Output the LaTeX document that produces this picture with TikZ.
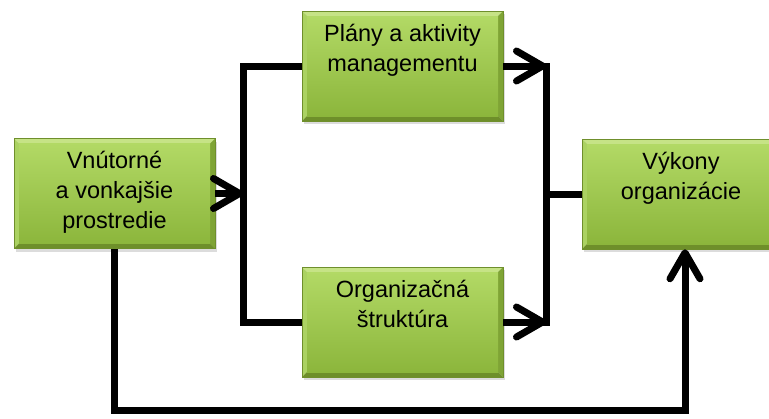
\documentclass[tikz,border=0pt]{standalone}
\usepackage{fontspec}
\setmainfont{Liberation Sans}
\usetikzlibrary{arrows.meta,shadows,calc}

\definecolor{gtop}{HTML}{B2D965}
\definecolor{gbot}{HTML}{8CB63C}
\definecolor{glight}{HTML}{C6E386}
\definecolor{gleft}{HTML}{ABD262}
\definecolor{gdark}{HTML}{6E8F2A}
\definecolor{gright}{HTML}{7FA435}
\definecolor{gline}{HTML}{6F8F2C}

\tikzset{
  greenbox/.style={
    rectangle, minimum width=201pt, minimum height=110pt, inner sep=0pt,
    draw=gline, line width=0.5pt,
    drop shadow={opacity=0.28, shadow xshift=2pt, shadow yshift=-3pt},
    path picture={
      \coordinate (pnw) at (path picture bounding box.north west);
      \coordinate (pne) at (path picture bounding box.north east);
      \coordinate (psw) at (path picture bounding box.south west);
      \coordinate (pse) at (path picture bounding box.south east);
      \coordinate (qnw) at ([shift={(5pt,-5pt)}]pnw);
      \coordinate (qne) at ([shift={(-5pt,-5pt)}]pne);
      \coordinate (qsw) at ([shift={(5pt,5pt)}]psw);
      \coordinate (qse) at ([shift={(-5pt,5pt)}]pse);
      \fill[glight] (pnw) -- (pne) -- (qne) -- (qnw) -- cycle;
      \fill[gleft] (pnw) -- (qnw) -- (qsw) -- (psw) -- cycle;
      \fill[gright] (pne) -- (qne) -- (qse) -- (pse) -- cycle;
      \fill[gdark] (psw) -- (pse) -- (qse) -- (qsw) -- cycle;
      \shade[top color=gtop, bottom color=gbot] (qnw) rectangle (qse);
    }
  },
  boxtext/.style={anchor=north, inner sep=0pt, align=center,
    font=\fontsize{23.5pt}{30pt}\selectfont},
  conn/.style={line width=7pt, line join=miter},
  chevron/.style={-{Straight Barb[length=26pt, width=30pt, line cap=round, line join=round]}}
}

\begin{document}
\begin{tikzpicture}[x=1pt, y=-1pt]
  \useasboundingbox (0,0) rectangle (769,418);
  \clip (0,0) rectangle (769,418);

  % blocks
  \node[greenbox] (env)  at (114.5,193.5) {};
  \node[greenbox] (plan) at (402.5,66)    {};
  \node[greenbox] (org)  at (402.5,322)   {};
  \node[greenbox, minimum width=206pt] (perf) at (685,194) {};

  % block captions
  \node[boxtext] (envt)  at ([yshift=-13pt]env.north)  {Vnútorné\\a vonkajšie\\prostredie};
  \node[boxtext] (plant) at ([yshift=-13pt]plan.north) {Plány a aktivity\\managementu};
  \node[boxtext] (orgt)  at ([yshift=-13pt]org.north)  {Organizačná\\štruktúra};
  \node[boxtext] (perft) at ([shift={(-4pt,-13pt)}]perf.north) {Výkony\\organizácie};

  % junction points
  \coordinate (ja) at (243,66);
  \coordinate (jb) at (243,322);
  \coordinate (jin) at (243,193.5);
  \coordinate (jc) at (546,66);
  \coordinate (jd) at (546,322);
  \coordinate (jout) at (546,194);
  \coordinate (jlow) at (0,410);

  % split from the environment block
  \draw[conn] (plan.west) -- (ja) -- (jb) -- (org.west);
  \draw[conn, chevron] (env.east) -- (jin);

  % merge into the performance block
  \draw[conn, line cap=rect] (jc) -- (jd);
  \draw[conn, chevron] (plan.east) -- (jc);
  \draw[conn, chevron] (org.east) -- (jd);
  \draw[conn] (jout) -- (perf.west);

  % direct path along the bottom
  \draw[conn, chevron] (env.south) -- (env.south |- jlow) -- (perf.south |- jlow) -- (perf.south);
\end{tikzpicture}
\end{document}
